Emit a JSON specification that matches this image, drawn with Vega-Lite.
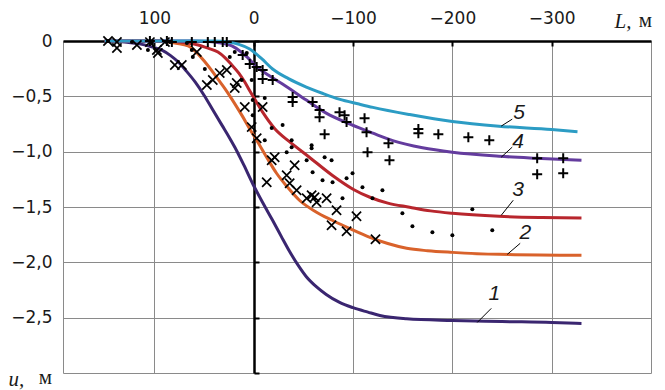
{
  "$schema": "https://vega.github.io/schema/vega-lite/v6.json",
  "width": 588,
  "height": 332,
  "autosize": {"type": "none"},
  "padding": {"left": 63, "top": 41, "right": 14, "bottom": 17},
  "background": "white",
  "config": {"view": {"stroke": "#8a8a8a", "strokeWidth": 1}, "font": "DejaVu Sans"},
  "datasets": {
    "curves": [
      {"s": "1", "L": 150, "u": 0}, {"s": "1", "L": 135, "u": -0.005}, {"s": "1", "L": 120, "u": -0.02}, {"s": "1", "L": 110, "u": -0.035}, {"s": "1", "L": 100, "u": -0.06}, {"s": "1", "L": 92, "u": -0.085}, {"s": "1", "L": 84, "u": -0.13}, {"s": "1", "L": 76, "u": -0.19}, {"s": "1", "L": 68, "u": -0.27}, {"s": "1", "L": 59, "u": -0.37}, {"s": "1", "L": 50, "u": -0.49}, {"s": "1", "L": 42, "u": -0.61}, {"s": "1", "L": 32, "u": -0.76}, {"s": "1", "L": 24, "u": -0.88}, {"s": "1", "L": 19, "u": -0.96}, {"s": "1", "L": 10, "u": -1.12}, {"s": "1", "L": 1, "u": -1.29}, {"s": "1", "L": -9, "u": -1.46}, {"s": "1", "L": -19, "u": -1.62}, {"s": "1", "L": -28, "u": -1.77}, {"s": "1", "L": -36, "u": -1.9}, {"s": "1", "L": -45, "u": -2.03}, {"s": "1", "L": -53, "u": -2.13}, {"s": "1", "L": -63, "u": -2.22}, {"s": "1", "L": -73, "u": -2.29}, {"s": "1", "L": -86, "u": -2.36}, {"s": "1", "L": -100, "u": -2.41}, {"s": "1", "L": -115, "u": -2.45}, {"s": "1", "L": -127, "u": -2.48}, {"s": "1", "L": -154, "u": -2.51}, {"s": "1", "L": -200, "u": -2.525}, {"s": "1", "L": -250, "u": -2.535}, {"s": "1", "L": -300, "u": -2.543}, {"s": "1", "L": -330, "u": -2.552},
      {"s": "2", "L": 150, "u": 0}, {"s": "2", "L": 100, "u": 0}, {"s": "2", "L": 89, "u": -0.005}, {"s": "2", "L": 78, "u": -0.02}, {"s": "2", "L": 66, "u": -0.045}, {"s": "2", "L": 58, "u": -0.1}, {"s": "2", "L": 49, "u": -0.19}, {"s": "2", "L": 42, "u": -0.27}, {"s": "2", "L": 36, "u": -0.344}, {"s": "2", "L": 29, "u": -0.43}, {"s": "2", "L": 22, "u": -0.525}, {"s": "2", "L": 12, "u": -0.67}, {"s": "2", "L": 2, "u": -0.824}, {"s": "2", "L": -3, "u": -0.896}, {"s": "2", "L": -13, "u": -1.05}, {"s": "2", "L": -23, "u": -1.195}, {"s": "2", "L": -34, "u": -1.32}, {"s": "2", "L": -46, "u": -1.439}, {"s": "2", "L": -62, "u": -1.54}, {"s": "2", "L": -79, "u": -1.62}, {"s": "2", "L": -98, "u": -1.7}, {"s": "2", "L": -117, "u": -1.774}, {"s": "2", "L": -135, "u": -1.83}, {"s": "2", "L": -154, "u": -1.873}, {"s": "2", "L": -175, "u": -1.895}, {"s": "2", "L": -200, "u": -1.91}, {"s": "2", "L": -247, "u": -1.928}, {"s": "2", "L": -330, "u": -1.937},
      {"s": "3", "L": 150, "u": 0}, {"s": "3", "L": 85, "u": 0}, {"s": "3", "L": 74, "u": -0.01}, {"s": "3", "L": 65, "u": -0.02}, {"s": "3", "L": 56, "u": -0.036}, {"s": "3", "L": 46, "u": -0.065}, {"s": "3", "L": 36, "u": -0.1}, {"s": "3", "L": 29, "u": -0.15}, {"s": "3", "L": 22, "u": -0.217}, {"s": "3", "L": 15, "u": -0.29}, {"s": "3", "L": 9, "u": -0.371}, {"s": "3", "L": 4, "u": -0.45}, {"s": "3", "L": -1, "u": -0.525}, {"s": "3", "L": -9, "u": -0.643}, {"s": "3", "L": -21, "u": -0.79}, {"s": "3", "L": -36, "u": -0.91}, {"s": "3", "L": -56, "u": -1.05}, {"s": "3", "L": -79, "u": -1.213}, {"s": "3", "L": -100, "u": -1.339}, {"s": "3", "L": -117, "u": -1.412}, {"s": "3", "L": -135, "u": -1.465}, {"s": "3", "L": -157, "u": -1.502}, {"s": "3", "L": -178, "u": -1.535}, {"s": "3", "L": -200, "u": -1.557}, {"s": "3", "L": -247, "u": -1.584}, {"s": "3", "L": -290, "u": -1.595}, {"s": "3", "L": -330, "u": -1.6},
      {"s": "4", "L": 150, "u": 0}, {"s": "4", "L": 60, "u": 0}, {"s": "4", "L": 45, "u": -0.005}, {"s": "4", "L": 35, "u": -0.015}, {"s": "4", "L": 29, "u": -0.025}, {"s": "4", "L": 22, "u": -0.045}, {"s": "4", "L": 14, "u": -0.09}, {"s": "4", "L": 6, "u": -0.15}, {"s": "4", "L": -1, "u": -0.217}, {"s": "4", "L": -15, "u": -0.31}, {"s": "4", "L": -29, "u": -0.389}, {"s": "4", "L": -53, "u": -0.534}, {"s": "4", "L": -73, "u": -0.652}, {"s": "4", "L": -97, "u": -0.751}, {"s": "4", "L": -120, "u": -0.833}, {"s": "4", "L": -140, "u": -0.9}, {"s": "4", "L": -170, "u": -0.965}, {"s": "4", "L": -200, "u": -1.005}, {"s": "4", "L": -247, "u": -1.041}, {"s": "4", "L": -284, "u": -1.059}, {"s": "4", "L": -330, "u": -1.077},
      {"s": "5", "L": 150, "u": 0}, {"s": "5", "L": 40, "u": 0}, {"s": "5", "L": 26, "u": -0.01}, {"s": "5", "L": 15, "u": -0.03}, {"s": "5", "L": 4, "u": -0.072}, {"s": "5", "L": -8, "u": -0.16}, {"s": "5", "L": -19, "u": -0.253}, {"s": "5", "L": -35, "u": -0.34}, {"s": "5", "L": -53, "u": -0.416}, {"s": "5", "L": -70, "u": -0.475}, {"s": "5", "L": -86, "u": -0.525}, {"s": "5", "L": -106, "u": -0.57}, {"s": "5", "L": -120, "u": -0.6}, {"s": "5", "L": -157, "u": -0.665}, {"s": "5", "L": -200, "u": -0.728}, {"s": "5", "L": -247, "u": -0.77}, {"s": "5", "L": -300, "u": -0.8}, {"s": "5", "L": -326, "u": -0.82}
    ],
    "crosses": [
      {"L": 146.7, "u": 0}, {"L": 137.7, "u": -0.009}, {"L": 137.7, "u": -0.063}, {"L": 117.6, "u": -0.036}, {"L": 104.5, "u": -0.01}, {"L": 97.5, "u": -0.081}, {"L": 96.5, "u": -0.109}, {"L": 89.4, "u": -0.01}, {"L": 79.4, "u": -0.217}, {"L": 72.4, "u": -0.217}, {"L": 57.3, "u": -0.1}, {"L": 47.2, "u": -0.398}, {"L": 41.2, "u": -0.353}, {"L": 34.2, "u": -0.29}, {"L": 27.1, "u": -0.262}, {"L": 19.1, "u": -0.425}, {"L": 17.1, "u": -0.38}, {"L": 9, "u": -0.597}, {"L": 2, "u": -0.778}, {"L": -3, "u": -0.878}, {"L": -9, "u": -0.597}, {"L": -13.1, "u": -1.276}, {"L": -18.1, "u": -1.077}, {"L": -21.1, "u": -1.05}, {"L": -33.2, "u": -1.213}, {"L": -36.2, "u": -1.285}, {"L": -41.2, "u": -1.122}, {"L": -43.2, "u": -1.348}, {"L": -53.3, "u": -1.421}, {"L": -58.3, "u": -1.394}, {"L": -61.3, "u": -1.412}, {"L": -63.3, "u": -1.457}, {"L": -73.4, "u": -1.421}, {"L": -83.4, "u": -1.529}, {"L": -78.4, "u": -1.665}, {"L": -93.5, "u": -1.719}, {"L": -103.5, "u": -1.584}, {"L": -122.6, "u": -1.792}
    ],
    "dots": [
      {"L": 146.7, "u": 0}, {"L": 122.6, "u": -0.009}, {"L": 106.5, "u": -0.081}, {"L": 102.5, "u": -0.018}, {"L": 84.4, "u": -0.009}, {"L": 67.3, "u": -0.018}, {"L": 62.3, "u": -0.081}, {"L": 61.3, "u": -0.145}, {"L": 49.2, "u": -0.253}, {"L": 24.1, "u": -0.145}, {"L": 19.1, "u": -0.1}, {"L": 12.1, "u": -0.353}, {"L": 7, "u": -0.109}, {"L": 2, "u": -0.353}, {"L": 1, "u": -0.534}, {"L": -11.1, "u": -0.516}, {"L": 1, "u": -0.67}, {"L": -18.1, "u": -0.787}, {"L": -29.1, "u": -0.76}, {"L": -38.2, "u": -0.896}, {"L": -11.1, "u": -0.896}, {"L": -38.2, "u": -0.959}, {"L": -33.2, "u": -1.005}, {"L": -58.3, "u": -0.941}, {"L": -58.3, "u": -0.968}, {"L": -53.3, "u": -1.077}, {"L": -59.3, "u": -1.186}, {"L": -71.4, "u": -1.05}, {"L": -78.4, "u": -1.077}, {"L": -69.3, "u": -1.258}, {"L": -79.4, "u": -1.276}, {"L": -93.5, "u": -1.24}, {"L": -99.5, "u": -1.195}, {"L": -109.5, "u": -1.321}, {"L": -89.4, "u": -1.421}, {"L": -129.6, "u": -1.348}, {"L": -119.6, "u": -1.421}, {"L": -149.7, "u": -1.557}, {"L": -159.8, "u": -1.674}, {"L": -179.9, "u": -1.729}, {"L": -200, "u": -1.756}, {"L": -220.1, "u": -1.52}, {"L": -240.2, "u": -1.71}
    ],
    "plus": [
      {"L": 104.5, "u": 0}, {"L": 87.4, "u": 0}, {"L": 82.4, "u": -0.009}, {"L": 62.3, "u": -0.009}, {"L": 46.2, "u": -0.009}, {"L": 39.2, "u": -0.009}, {"L": 31.2, "u": -0.009}, {"L": 27.1, "u": -0.009}, {"L": 11.1, "u": -0.127}, {"L": 4, "u": -0.208}, {"L": -3, "u": -0.235}, {"L": -9, "u": -0.262}, {"L": -9, "u": -0.344}, {"L": -19.1, "u": -0.353}, {"L": -39.2, "u": -0.507}, {"L": -39.2, "u": -0.552}, {"L": -59.3, "u": -0.552}, {"L": -66.3, "u": -0.624}, {"L": -66.3, "u": -0.688}, {"L": -71.4, "u": -0.842}, {"L": -86.4, "u": -0.643}, {"L": -91.5, "u": -0.67}, {"L": -93.5, "u": -0.733}, {"L": -111.6, "u": -0.697}, {"L": -113.6, "u": -0.824}, {"L": -114.6, "u": -1.005}, {"L": -135.7, "u": -0.923}, {"L": -136.7, "u": -1.077}, {"L": -165.8, "u": -0.796}, {"L": -165.8, "u": -0.833}, {"L": -185.9, "u": -0.842}, {"L": -216.1, "u": -0.869}, {"L": -237.2, "u": -0.896}, {"L": -285.4, "u": -1.059}, {"L": -285.4, "u": -1.204}, {"L": -311.6, "u": -1.059}, {"L": -311.6, "u": -1.195}
    ],
    "labels": [
      {"t": "5", "L": -267.3, "u": -0.652},
      {"t": "4", "L": -266.3, "u": -0.914},
      {"t": "3", "L": -266.3, "u": -1.348},
      {"t": "2", "L": -273.4, "u": -1.738},
      {"t": "1", "L": -242.2, "u": -2.29}
    ],
    "leaders": [
      {"L": -249.2, "u": -0.769, "L2": -260.3, "u2": -0.706},
      {"L": -249.2, "u": -1.05, "L2": -260.3, "u2": -0.959},
      {"L": -249.2, "u": -1.575, "L2": -261.3, "u2": -1.439},
      {"L": -255.3, "u": -1.928, "L2": -268.3, "u2": -1.828},
      {"L": -225.1, "u": -2.543, "L2": -239.2, "u2": -2.416}
    ],
    "unitTop": [{"t": "м", "L": -400, "u": 0}],
    "unitLeft": [{"t": "м", "L": 192, "u": -3}]
  },
  "resolve": {"axis": {"y": "independent"}},
  "layer": [
    {
      "data": {"name": "curves"},
      "mark": {"type": "line", "strokeWidth": 3, "interpolate": "monotone"},
      "encoding": {
        "x": {
          "field": "L", "type": "quantitative",
          "scale": {"domain": [192, -400], "nice": false, "zero": false},
          "axis": {
            "orient": "top", "values": [100, 0, -100, -200, -300],
            "grid": true, "gridColor": "#8a8a8a", "gridWidth": 1, "gridOpacity": 1,
            "domainColor": "black", "domainWidth": 2.5,
            "ticks": true, "tickColor": "black", "tickWidth": 2, "tickSize": -5,
            "labelPadding": 19, "labelFont": "DejaVu Sans", "labelFontSize": 17, "labelColor": "#1a1a1a",
            "labelExpr": "format(datum.value, 'd')",
            "title": "L,", "titleFont": "Liberation Serif", "titleFontStyle": "italic", "titleFontWeight": "normal",
            "titleFontSize": 21, "titleColor": "#1a1a1a", "titleAnchor": "end", "titleAlign": "right",
            "titleX": 568, "titleY": -20, "titleBaseline": "middle"
          }
        },
        "y": {
          "field": "u", "type": "quantitative",
          "scale": {"domain": [-3, 0], "nice": false, "zero": false},
          "axis": {
            "orient": "left", "values": [0, -0.5, -1, -1.5, -2, -2.5],
            "grid": true, "gridColor": "#8a8a8a", "gridWidth": 1, "gridOpacity": 1,
            "domain": false, "ticks": false, "labelPadding": 11,
            "labelFont": "DejaVu Sans", "labelFontSize": 17, "labelColor": "#1a1a1a",
            "labelExpr": "datum.value === 0 ? '0' : replace(format(datum.value, '.1f'), '.', ',')",
            "title": "u,", "titleFont": "Liberation Serif", "titleFontStyle": "italic", "titleFontWeight": "normal",
            "titleFontSize": 21, "titleColor": "#1a1a1a", "titleAngle": 0, "titleAlign": "left",
            "titleBaseline": "middle", "titleX": -55, "titleY": 338
          }
        },
        "color": {
          "field": "s", "type": "nominal",
          "scale": {"domain": ["1", "2", "3", "4", "5"], "range": ["#3a2670", "#d9622b", "#b8262d", "#643c9e", "#2c9cc4"]},
          "legend": null
        }
      }
    },
    {
      "data": {"name": "dots"},
      "mark": {"type": "circle", "size": 16, "color": "black", "opacity": 1},
      "encoding": {
        "x": {"field": "L", "type": "quantitative", "scale": {"domain": [192, -400], "nice": false, "zero": false}},
        "y": {
          "field": "u", "type": "quantitative",
          "scale": {"domain": [-3, 0], "nice": false, "zero": false},
          "axis": {
            "orient": "right", "offset": -397, "values": [0, -0.5, -1, -1.5, -2, -2.5, -3],
            "labels": false, "grid": false, "title": null,
            "domainColor": "black", "domainWidth": 2.5,
            "tickColor": "black", "tickWidth": 2, "tickSize": 5
          }
        }
      }
    },
    {
      "data": {"name": "crosses"},
      "mark": {"type": "point", "shape": "M-1,-1L1,1M1,-1L-1,1", "filled": false, "stroke": "black", "strokeWidth": 1.7, "size": 85, "opacity": 1},
      "encoding": {
        "x": {"field": "L", "type": "quantitative", "scale": {"domain": [192, -400], "nice": false, "zero": false}},
        "y": {"field": "u", "type": "quantitative", "scale": {"domain": [-3, 0], "nice": false, "zero": false}, "axis": null}
      }
    },
    {
      "data": {"name": "plus"},
      "mark": {"type": "point", "shape": "M-1,0L1,0M0,-1L0,1", "filled": false, "stroke": "black", "strokeWidth": 2, "size": 100, "opacity": 1},
      "encoding": {
        "x": {"field": "L", "type": "quantitative", "scale": {"domain": [192, -400], "nice": false, "zero": false}},
        "y": {"field": "u", "type": "quantitative", "scale": {"domain": [-3, 0], "nice": false, "zero": false}, "axis": null}
      }
    },
    {
      "data": {"name": "leaders"},
      "mark": {"type": "rule", "color": "black", "strokeWidth": 1},
      "encoding": {
        "x": {"field": "L", "type": "quantitative", "scale": {"domain": [192, -400], "nice": false, "zero": false}},
        "y": {"field": "u", "type": "quantitative", "scale": {"domain": [-3, 0], "nice": false, "zero": false}, "axis": null},
        "x2": {"field": "L2"},
        "y2": {"field": "u2"}
      }
    },
    {
      "data": {"name": "labels"},
      "mark": {"type": "text", "font": "Liberation Sans", "fontStyle": "italic", "fontSize": 21, "color": "#1a1a1a", "align": "center", "baseline": "middle"},
      "encoding": {
        "x": {"field": "L", "type": "quantitative", "scale": {"domain": [192, -400], "nice": false, "zero": false}},
        "y": {"field": "u", "type": "quantitative", "scale": {"domain": [-3, 0], "nice": false, "zero": false}, "axis": null},
        "text": {"field": "t"}
      }
    },
    {
      "data": {"name": "unitTop"},
      "mark": {"type": "text", "font": "Liberation Serif", "fontSize": 21, "color": "#1a1a1a", "align": "right", "baseline": "middle", "dx": 1, "dy": -20, "clip": false},
      "encoding": {
        "x": {"field": "L", "type": "quantitative", "scale": {"domain": [192, -400], "nice": false, "zero": false}},
        "y": {"field": "u", "type": "quantitative", "scale": {"domain": [-3, 0], "nice": false, "zero": false}, "axis": null},
        "text": {"field": "t"}
      }
    },
    {
      "data": {"name": "unitLeft"},
      "mark": {"type": "text", "font": "Liberation Serif", "fontSize": 21, "color": "#1a1a1a", "align": "right", "baseline": "middle", "dx": -11, "dy": 5, "clip": false},
      "encoding": {
        "x": {"field": "L", "type": "quantitative", "scale": {"domain": [192, -400], "nice": false, "zero": false}},
        "y": {"field": "u", "type": "quantitative", "scale": {"domain": [-3, 0], "nice": false, "zero": false}, "axis": null},
        "text": {"field": "t"}
      }
    }
  ]
}
